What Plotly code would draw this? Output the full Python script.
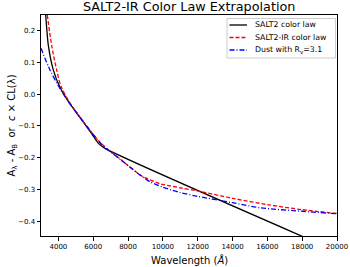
import plotly.graph_objects as go

# SALT2 colour law (black solid)
salt2_wl = [3270, 3420, 3710, 4090, 4600, 5240, 5815, 6300, 6650, 18500]
salt2_val = [0.25, 0.155, 0.076, 0.022, -0.025, -0.074, -0.117, -0.155, -0.170, -0.460]

# SALT2-IR colour law (red dashed)
salt2ir_wl = [3360, 3610, 3900, 4150, 4600, 5240, 5815, 6390, 6960, 7540, 8000, 8800,
              9830, 11000, 12000, 14000, 16000, 18000, 20000]
salt2ir_val = [0.25, 0.155, 0.076, 0.025, -0.022, -0.072, -0.114, -0.151, -0.180, -0.204,
               -0.225, -0.258, -0.282, -0.295, -0.305, -0.328, -0.348, -0.364, -0.376]

# Dust with Rv = 3.1 (blue dash-dot)
dust_wl = [3000, 3520, 3995, 4570, 5240, 5815, 6390, 6960, 7540, 8000, 8700, 9260,
           10000, 11000, 12000, 14000, 15580, 18000, 20000]
dust_val = [0.145, 0.076, 0.027, -0.023, -0.072, -0.114, -0.153, -0.180, -0.205, -0.225,
            -0.255, -0.276, -0.293, -0.310, -0.322, -0.342, -0.358, -0.369, -0.377]

x_ticks = [4000, 6000, 8000, 10000, 12000, 14000, 16000, 18000, 20000]
x_ticktext = [str(v) for v in x_ticks]
y_ticks = [-0.4, -0.3, -0.2, -0.1, 0.0, 0.1, 0.2]

series_names = ["SALT2 color law", "SALT2-IR color law", "Dust with R<sub>v</sub>=3.1"]
series_colors = ["black", "#ff0000", "#0000ff"]
series_dash = ["solid", "4px,2px", "5px,2px,1px,2px"]

FONT = "DejaVu Sans"
W, H = 350, 267
L, R, T, B = 41, 13, 15, 31
PW, PH = W - L - R, H - T - B


def px_x(p):
    return (p - L) / PW


def px_y(p):
    return 1 - (p - T) / PH


fig = go.Figure()
for wl, val, name, col, dash, sm in [
    (salt2_wl, salt2_val, series_names[0], series_colors[0], series_dash[0], 0.6),
    (salt2ir_wl, salt2ir_val, series_names[1], series_colors[1], series_dash[1], 0.8),
    (dust_wl, dust_val, series_names[2], series_colors[2], series_dash[2], 0.8),
]:
    fig.add_trace(go.Scatter(x=wl, y=val, mode="lines", name=name, showlegend=False,
                             line=dict(color=col, width=1.3, dash=dash, shape="spline", smoothing=sm)))

axis_common = dict(showgrid=False, zeroline=False, showline=True, linecolor="black",
                   linewidth=1, mirror=True, ticks="outside", ticklen=3.5, tickwidth=1,
                   tickcolor="black", automargin=False,
                   tickfont=dict(family=FONT, size=7, color="black"))

shapes = []
annotations = []

# legend box
shapes.append(dict(type="rect", xref="paper", yref="paper",
                   x0=px_x(227), x1=px_x(335.5), y0=px_y(58), y1=px_y(18.5),
                   line=dict(color="#cccccc", width=1), fillcolor="rgba(255,255,255,0.85)",
                   layer="above"))
legend_rows = [25, 37.5, 50]
for i, yy in enumerate(legend_rows):
    shapes.append(dict(type="line", xref="paper", yref="paper",
                       x0=px_x(229.5), x1=px_x(247), y0=px_y(yy), y1=px_y(yy),
                       line=dict(color=series_colors[i], width=1.3, dash=series_dash[i]),
                       layer="above"))
    annotations.append(dict(text=series_names[i], xref="paper", yref="paper",
                            x=px_x(252.5), y=px_y(yy), xanchor="left", yanchor="middle",
                            showarrow=False, font=dict(family=FONT, size=7.8, color="black")))

# title
annotations.append(dict(text="SALT2-IR Color Law Extrapolation", xref="paper", yref="paper",
                        x=0.5, y=px_y(7), xanchor="center", yanchor="middle", showarrow=False,
                        font=dict(family=FONT, size=12.8, color="black")))
# x label
annotations.append(dict(text="Wavelength (<i>Å</i>)", xref="paper", yref="paper",
                        x=0.5, y=px_y(259.5), xanchor="center", yanchor="middle", showarrow=False,
                        font=dict(family=FONT, size=10, color="black")))
# y label
annotations.append(dict(text="A<sub>λ</sub> - A<sub>B</sub>  or  <i>c</i> × CL(λ)",
                        xref="paper", yref="paper", x=px_x(12), y=0.5,
                        xanchor="center", yanchor="middle", textangle=-90, showarrow=False,
                        font=dict(family=FONT, size=10, color="black")))

fig.update_layout(
    width=W, height=H,
    margin=dict(l=L, r=R, t=T, b=B),
    paper_bgcolor="white", plot_bgcolor="white",
    xaxis=dict(range=[3000, 20000], tickvals=x_ticks, ticktext=x_ticktext, **axis_common),
    yaxis=dict(range=[-0.447, 0.25], tickvals=y_ticks, tickformat=".1f", **axis_common),
    shapes=shapes,
    annotations=annotations,
    showlegend=False,
)

fig.write_html("out.html",
               config={"displayModeBar": False, "staticPlot": True},
               post_script="document.body.style.margin='0px';document.body.style.overflow='hidden';")
